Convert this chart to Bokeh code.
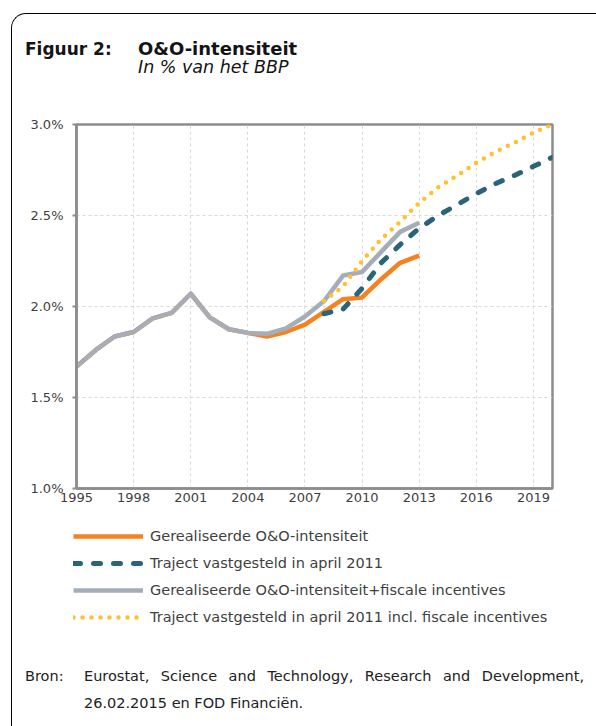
from bokeh.plotting import figure
from bokeh.models import (Legend, LegendItem, FixedTicker, PrintfTickFormatter, Range1d, Div)
from bokeh.layouts import column
from bokeh.embed import file_html
from bokeh.resources import INLINE

# ---- data ----
years_hist = list(range(1995, 2014))
realised = [1.67, 1.76, 1.835, 1.86, 1.935, 1.965, 2.07, 1.94, 1.875, 1.855,
            1.835, 1.86, 1.90, 1.97, 2.04, 2.05, 2.15, 2.24, 2.28]
realised_fiscal = [1.67, 1.76, 1.835, 1.86, 1.935, 1.965, 2.07, 1.94, 1.875, 1.855,
                   1.85, 1.88, 1.945, 2.03, 2.17, 2.19, 2.30, 2.41, 2.46]
years_traj = list(range(2008, 2021))
trajectory = [1.96, 1.985, 2.10, 2.24, 2.34, 2.43, 2.50, 2.56, 2.62, 2.675, 2.72, 2.77, 2.82]
trajectory_fiscal = [2.03, 2.11, 2.25, 2.37, 2.465, 2.57, 2.655, 2.72, 2.79, 2.85, 2.90, 2.955, 3.0]

x_ticks = [1995, 1998, 2001, 2004, 2007, 2010, 2013, 2016, 2019]
y_ticks = [1.0, 1.5, 2.0, 2.5, 3.0]

labels = ["Gerealiseerde O&O-intensiteit",
          "Traject vastgesteld in april 2011",
          "Gerealiseerde O&O-intensiteit+fiscale incentives",
          "Traject vastgesteld in april 2011 incl. fiscale incentives"]

title_left = "Figuur 2:"
title_main = "O&amp;O-intensiteit"
subtitle = "In % van het BBP"
source_head = "Bron:"
source_line1 = "Eurostat, Science and Technology, Research and Development,"
source_line2 = "26.02.2015 en FOD Financiën."

FONT = "DejaVu Sans"
TXT = "#3f3f3f"
AX = "#8c8c8c"
W = 583

STYLES = [
    dict(line_color="#f58220", line_width=4.5, line_join="round"),
    dict(line_color="#2a6479", line_width=5, line_dash="7 13", line_cap="round", line_join="round"),
    dict(line_color="#a5adb8", line_width=4.5, line_join="round"),
    dict(line_color="#ffc22e", line_width=4.5, line_dash="0 9", line_cap="round", line_join="round"),
]
SERIES = [(years_hist, realised), (years_traj, trajectory),
          (years_hist, realised_fiscal), (years_traj, trajectory_fiscal)]

# ---- header ----
header_html = f"""
<div style="position:relative;width:{W}px;height:87px;font-family:'DejaVu Sans';color:#141414;">
  <div style="position:absolute;left:8px;top:21px;line-height:18px;font-size:17px;font-weight:bold;white-space:nowrap;">{title_left}</div>
  <div style="position:absolute;left:121px;top:21px;line-height:18px;font-size:18px;font-weight:bold;white-space:nowrap;">{title_main}</div>
  <div style="position:absolute;left:121px;top:39px;line-height:18px;font-size:17.5px;font-style:italic;white-space:nowrap;">{subtitle}</div>
</div>"""
header = Div(text=header_html, width=W, height=87)

# ---- chart ----
p = figure(width=W, height=407, output_backend="svg", toolbar_location=None,
           x_range=Range1d(1995, 2020), y_range=Range1d(1.0, 3.0),
           min_border_left=64, min_border_right=43, min_border_top=13, min_border_bottom=30)
p.frame_align = False
p.background_fill_color = "white"
p.border_fill_color = "white"
p.outline_line_color = AX
p.outline_line_width = 2.5

p.xaxis.ticker = FixedTicker(ticks=x_ticks)
p.yaxis.ticker = FixedTicker(ticks=y_ticks)
p.yaxis.formatter = PrintfTickFormatter(format="%.1f%%")
for ax in (p.xaxis[0], p.yaxis[0]):
    ax.axis_line_color = AX
    ax.axis_line_width = 2.5
    ax.major_tick_line_color = AX
    ax.major_tick_line_width = 2
    ax.major_tick_in = 0
    ax.minor_tick_line_color = None
    ax.major_label_text_font = FONT
    ax.major_label_text_font_size = "13px"
    ax.major_label_text_color = TXT
p.yaxis.major_tick_out = 4
p.yaxis.major_label_standoff = 9
p.xaxis.major_tick_out = 0
p.xaxis.major_label_standoff = 4

for g in (p.xgrid[0], p.ygrid[0]):
    g.grid_line_color = "#d9d9d9"
    g.grid_line_dash = "3 3"
    g.grid_line_width = 1

for (xs, ys), st in zip(SERIES, STYLES):
    p.line(xs, ys, **st)

# ---- legend (own canvas; same series, drawn outside its visible range) ----
lf = figure(width=W, height=133, output_backend="svg", toolbar_location=None,
            x_axis_location=None, y_axis_location=None, min_border=0,
            x_range=Range1d(0, 1), y_range=Range1d(0, 1))
lf.frame_align = False
lf.grid.visible = False
lf.outline_line_color = None
lf.background_fill_color = "white"
lf.border_fill_color = "white"
items = []
for lbl, (xs, ys), st in zip(labels, SERIES, STYLES):
    r = lf.line(xs, ys, **st)
    items.append(LegendItem(label=lbl, renderers=[r]))
legend = Legend(items=items, location=(61, 24), glyph_width=70, glyph_height=20, label_height=20,
                spacing=7, padding=0, margin=0, label_standoff=7,
                border_line_alpha=0, background_fill_alpha=0,
                label_text_font=FONT, label_text_font_size="14.5px", label_text_color=TXT)
lf.add_layout(legend)

# ---- footer ----
footer_html = f"""
<div style="position:relative;width:{W}px;height:75px;font-family:'DejaVu Sans';font-size:14.5px;color:#222;">
  <div style="position:absolute;left:8px;top:9px;line-height:22px;white-space:nowrap;">{source_head}</div>
  <div style="position:absolute;left:67px;top:9px;width:500px;line-height:22px;text-align:justify;text-align-last:justify;white-space:nowrap;">{source_line1}</div>
  <div style="position:absolute;left:67px;top:36px;line-height:22px;white-space:nowrap;">{source_line2}</div>
</div>"""
footer = Div(text=footer_html, width=W, height=75)

layout = column(header, p, lf, footer, spacing=0,
                styles={"margin-left": "11px", "margin-top": "13px",
                        "border-left": "1.5px solid #000", "border-top": "1.5px solid #000",
                        "border-top-left-radius": "15px"})

open("out.html", "w").write(file_html(layout, INLINE))
